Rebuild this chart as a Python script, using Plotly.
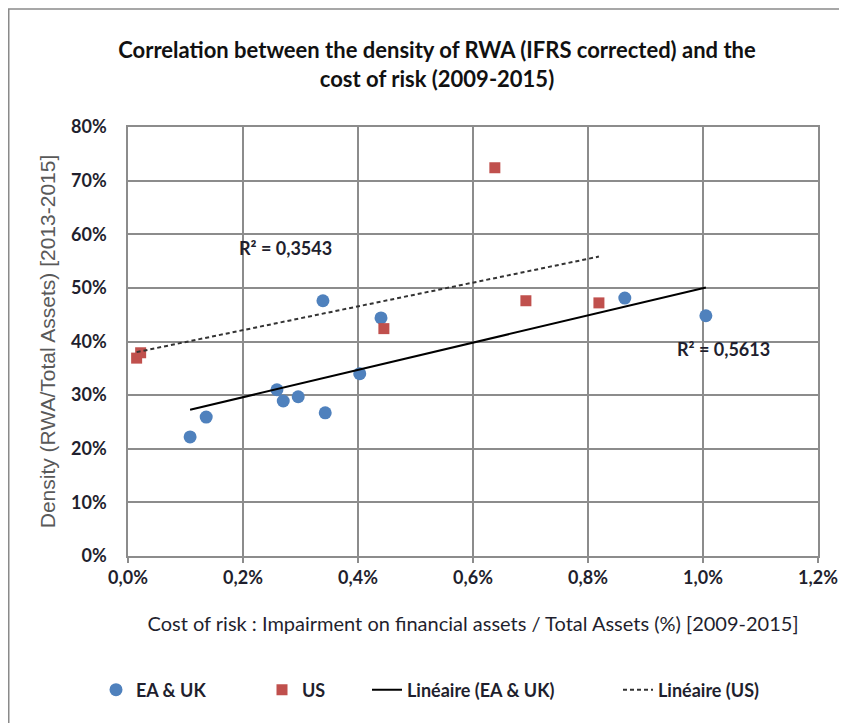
import numpy as np
import plotly.graph_objects as go

# cost of risk (% of total assets) and RWA density (%)
ea_uk_cost = [0.108, 0.136, 0.259, 0.270, 0.296, 0.343, 0.403, 0.339, 0.440, 0.864, 1.005]
ea_uk_density = [22.2, 25.9, 31.0, 28.9, 29.7, 26.7, 34.0, 47.6, 44.4, 48.1, 44.8]

us_cost = [0.015, 0.022, 0.445, 0.638, 0.692, 0.819]
us_density = [36.9, 37.9, 42.4, 72.4, 47.6, 47.2]

r2_us_label = "R² = 0,3543"
r2_ea_label = "R² = 0,5613"

FONT = "Lato, Open Sans, sans-serif"
GRID = "#8c8c8c"
TXT = "#1f1f2e"

# the page body adds an 8px offset; sizes below are in figure pixels
W, H = 847, 723


def trend(x, y):
    slope, intercept = np.polyfit(x, y, 1)
    xs = np.array([min(x), max(x)])
    return xs, slope * xs + intercept


fig = go.Figure()

fig.add_trace(go.Scatter(
    x=ea_uk_cost, y=ea_uk_density, mode="markers", name="EA & UK",
    marker=dict(symbol="circle", size=13, color="#4F81BD"), legend="legend",
))
fig.add_trace(go.Scatter(
    x=us_cost, y=us_density, mode="markers", name="US",
    marker=dict(symbol="square", size=11, color="#C0504D"), legend="legend2",
))

tx, ty = trend(ea_uk_cost, ea_uk_density)
fig.add_trace(go.Scatter(
    x=tx, y=ty, mode="lines", name="Linéaire (EA & UK)",
    line=dict(color="black", width=2), legend="legend3",
))
tx, ty = trend(us_cost, us_density)
fig.add_trace(go.Scatter(
    x=tx, y=ty, mode="lines", name="Linéaire (US)",
    line=dict(color="#333333", width=2, dash="4px,3px"), legend="legend4",
))

fig.add_annotation(x=0.19, y=57.5, text=r2_us_label, showarrow=False,
                   xanchor="left", font=dict(family=FONT, size=18, color=TXT, weight="bold"))
fig.add_annotation(x=0.951, y=38.6, text=r2_ea_label, showarrow=False,
                   xanchor="left", font=dict(family=FONT, size=18, color=TXT, weight="bold"))

# outer chart frame
fig.add_shape(type="rect", xref="paper", yref="paper",
              x0=(0.75 - 120) / 690, x1=1.2, y0=-0.6, y1=(548 - 1) / 429,
              line=dict(color="#8a8a8a", width=1.5), layer="below")

axis_common = dict(
    showgrid=True, gridcolor=GRID, gridwidth=1.5,
    showline=True, linecolor=GRID, linewidth=1.5, mirror=True,
    zeroline=False, ticksuffix="%",
    tickfont=dict(family=FONT, size=18, color=TXT, weight="bold"),
)


def legend_at(px):
    return dict(
        orientation="h", x=px / W, xref="container", xanchor="left",
        y=1 - 682 / H, yref="container", yanchor="middle",
        font=dict(family=FONT, size=18, color=TXT, weight="bold"),
        bgcolor="rgba(0,0,0,0)", visible=True,
    )


fig.update_layout(
    width=W, height=H,
    showlegend=True,
    margin=dict(l=120, r=37, t=119, b=175),
    paper_bgcolor="white", plot_bgcolor="white",
    separators=", ",
    font=dict(family=FONT, color=TXT),
    title=dict(
        text="Correlation between the density of RWA (IFRS corrected) and the<br>cost of risk (2009-2015)",
        x=429 / W, xanchor="center", xref="container",
        y=1 - 50 / H, yanchor="middle",
        font=dict(family=FONT, size=22, color="#111", weight="bold"),
    ),
    xaxis=dict(
        **axis_common, range=[0, 1.2], dtick=0.2, tickformat=".1f",
        ticks="outside", ticklen=5, tickcolor=GRID, tickwidth=1.5,
        title=dict(text="Cost of risk : Impairment on financial assets / Total Assets (%) [2009-2015]",
                   font=dict(family=FONT, size=20, color=TXT), standoff=30),
    ),
    yaxis=dict(
        **axis_common, range=[0, 80], dtick=10, tickformat="d",
        ticks="", ticklabelstandoff=16,
        title=dict(text="Density (RWA/Total Assets) [2013-2015]",
                   font=dict(family="Liberation Sans, Arial, sans-serif", size=21, color="#595959"),
                   standoff=10),
    ),
    legend=legend_at(88),
    legend2=legend_at(254),
    legend3=legend_at(359),
    legend4=legend_at(610),
)

fig.write_html("out.html")
